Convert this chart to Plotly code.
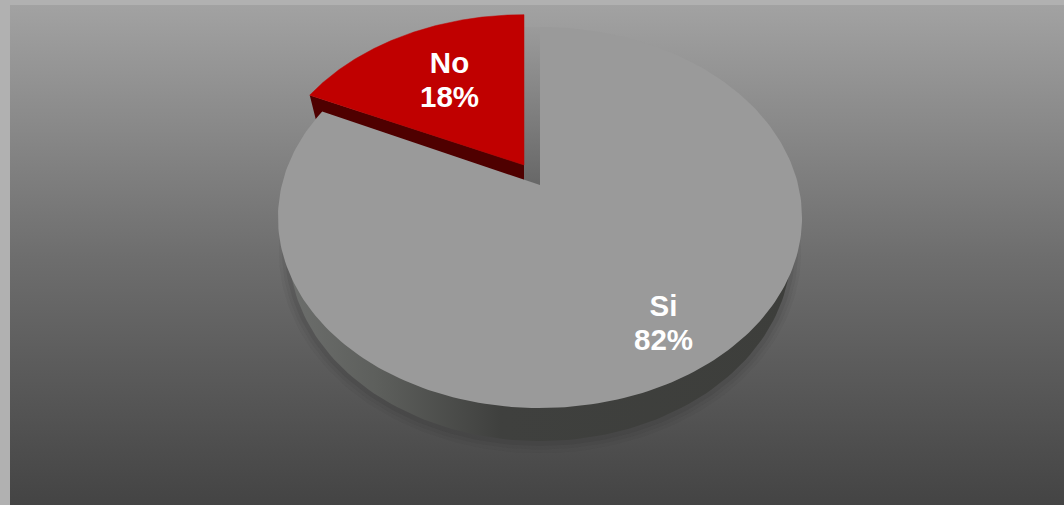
import numpy as np
import plotly.graph_objects as go

categories = ["Si", "No"]
shares = [82, 18]
top_colors = ["#9a9a9a", "#c00000"]

W, H = 1064, 505
FONT = "Liberation Sans"
B = 0.1706


def project(theta, r, cx, cy, ax, ay):
    """Clockwise angle from 12 o'clock (degrees) to page position with perspective."""
    t = np.radians(theta)
    u, v = r * np.sin(t), r * np.cos(t)
    d = 1 + B * v
    return cx + ax * u / d, cy - ay * v / d


def arc(start, stop, cx, cy, ax, ay, n=240):
    return project(np.linspace(start, stop, n), 1.0, cx, cy, ax, ay)


si_end = 360 * shares[0] / sum(shares)

fig = go.Figure()

# Background panel
fig.add_trace(go.Scatter(
    x=[10, W, W, 10, 10], y=[5, 5, H, H, 5], mode="lines", line=dict(width=0),
    fill="toself", hoverinfo="skip", showlegend=False,
    fillgradient=dict(type="vertical", start=5, stop=H,
                      colorscale=[[0, "#a2a2a2"], [0.5, "#6e6e6e"], [1, "#444444"]]),
))

# Soft shadow under the pie
for grow, alpha in [(10, 0.05), (7, 0.06), (4, 0.08)]:
    sx, sy = arc(0, 360, 540, 185 + 33, 258.2 - 11 + grow, 185 + grow)
    fig.add_trace(go.Scatter(x=sx, y=sy, mode="lines", line=dict(width=0), fill="toself",
                             fillcolor=f"rgba(30,30,30,{alpha})", hoverinfo="skip", showlegend=False))

# Pie side
lx, ly = arc(0, 360, 540, 185 + 33, 258.2 - 11, 185)
fig.add_trace(go.Scatter(
    x=lx, y=ly, mode="lines", line=dict(width=0), fill="toself", hoverinfo="skip", showlegend=False,
    fillgradient=dict(type="horizontal", start=285, stop=800,
                      colorscale=[[0, "#6d6f6d"], [0.18, "#5d5f5c"], [0.42, "#3f403e"], [1, "#3d3e3b"]]),
))

# Inner cut wall of the large slice
fig.add_trace(go.Scatter(
    x=[524, 540, 540, 524, 524], y=[27, 27, 186, 186, 27], mode="lines", line=dict(width=0),
    fill="toself", hoverinfo="skip", showlegend=False,
    fillgradient=dict(type="vertical", start=27, stop=186,
                      colorscale=[[0, "#9b9b9b"], [0.25, "#8e8e8e"], [1, "#676767"]]),
))

# Exploded slice: side, then top
nx, ny = arc(si_end, 360, 524, 165, 254, 176)
ax_, ay_ = 524, 165
fig.add_trace(go.Scatter(
    x=[ax_, nx[0], nx[0] + 6, ax_], y=[ay_, ny[0], ny[0] + 24, ay_ + 15],
    mode="lines", line=dict(width=0), fill="toself", fillcolor="#4f0000",
    hoverinfo="skip", showlegend=False,
))
fig.add_trace(go.Scatter(
    x=np.r_[ax_, nx, ax_], y=np.r_[ay_, ny, ay_], mode="lines", line=dict(width=0.5, color=top_colors[1]),
    fill="toself", fillcolor=top_colors[1], name=categories[1], hoverinfo="name", showlegend=False,
))

# Large slice top
sx, sy = arc(0, si_end, 540, 185, 258.2, 185)
fig.add_trace(go.Scatter(
    x=np.r_[540, sx, 540], y=np.r_[185, sy, 185], mode="lines", line=dict(width=0),
    fill="toself", fillcolor=top_colors[0], name=categories[0], hoverinfo="name", showlegend=False,
))

# Labels
label_x = [663.5, 449.5]
name_y = [309, 66]
pct_y = [343, 100]
fig.add_trace(go.Scatter(x=label_x, y=name_y, mode="text", text=categories, hoverinfo="skip", showlegend=False,
                         textfont=dict(family=FONT, size=29.5, color="white", weight="bold")))
fig.add_trace(go.Scatter(x=label_x, y=pct_y, mode="text", text=[f"{s}%" for s in shares], hoverinfo="skip",
                         showlegend=False, textfont=dict(family=FONT, size=29.5, color="white", weight="bold")))

fig.update_layout(
    width=W, height=H, margin=dict(l=0, r=0, t=0, b=0), autosize=False,
    paper_bgcolor="#b1b1b1", plot_bgcolor="#b1b1b1", showlegend=False,
    xaxis=dict(range=[0, W], visible=False, fixedrange=True),
    yaxis=dict(range=[H, 0], visible=False, fixedrange=True),
)
fig.write_html("out.html", config={"displayModeBar": False},
               post_script="document.body.style.margin='0';document.body.style.overflow='hidden';")
